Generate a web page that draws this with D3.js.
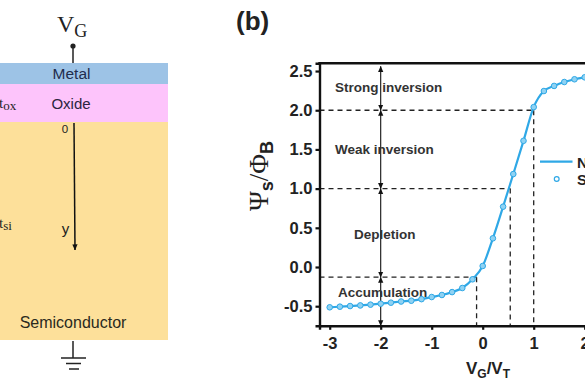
<!DOCTYPE html>
<html>
<head>
<meta charset="utf-8">
<script src="https://cdn.jsdelivr.net/npm/d3@7"></script>
<style>
  html, body { margin: 0; padding: 0; background: #fff; overflow: hidden; }
  svg { display: block; }
  text { font-family: "Liberation Sans", Arial, sans-serif; }
  .serif { font-family: "Liberation Serif", "DejaVu Serif", serif; }
</style>
</head>
<body>
<div id="chart"></div>
<script>
// values
const vgVt = [-3, -2.8, -2.6, -2.4, -2.2, -2, -1.8, -1.6, -1.4, -1.2, -1, -0.8, -0.6, -0.4, -0.2, 0, 0.2, 0.4, 0.6, 0.8, 1, 1.2, 1.4, 1.6, 1.8, 2];
const psiNumerical = [-0.514, -0.506, -0.498, -0.49, -0.48, -0.468, -0.455, -0.44, -0.43, -0.41, -0.383, -0.357, -0.32, -0.268, -0.157, 0.013, 0.366, 0.77, 1.186, 1.61, 2.04, 2.245, 2.31, 2.36, 2.395, 2.42];
const xTicks = [-3, -2, -1, 0, 1, 2];
const yTicks = [-0.5, 0, 0.5, 1, 1.5, 2, 2.5];
const regionNames = ["Strong inversion", "Weak inversion", "Depletion", "Accumulation"];
const boundaryX = [-0.12, 0.54, 1];
const boundaryY = [-0.13, 1, 2];
const arrowStops = [2.56, 2, 1, -0.13, -0.75];
const layerNames = ["Metal", "Oxide", "Semiconductor"];

const width = 585;
const height = 390;
const ink = "#222";
const blue = "#2fa8e6";

const svg = d3.select("#chart")
    .append("svg")
    .attr("width", width)
    .attr("height", height);

const defs = svg.append("defs");
["end", "start"].forEach(name => {
    defs.append("marker")
        .attr("id", "arrow-" + name)
        .attr("viewBox", "0 0 8 8")
        .attr("refX", name === "end" ? 7.5 : 0.5)
        .attr("refY", 4)
        .attr("markerWidth", 6)
        .attr("markerHeight", 7)
        .attr("markerUnits", "userSpaceOnUse")
        .attr("orient", "auto")
        .append("path")
        .attr("d", name === "end" ? "M0,0.5L8,4L0,7.5Z" : "M8,0.5L0,4L8,7.5Z")
        .attr("fill", "#111");
});

// Panel (a): the device stack
const stack = svg.append("g");
stack.append("rect").attr("x", 0).attr("y", 63).attr("width", 168).attr("height", 21).attr("fill", "#9dc3e6");
stack.append("rect").attr("x", 0).attr("y", 84).attr("width", 168).attr("height", 38).attr("fill", "#fdc4fb");
stack.append("rect").attr("x", 0).attr("y", 122).attr("width", 168).attr("height", 218).attr("fill", "#fde09a");

stack.append("text").attr("x", 71.5).attr("y", 79).attr("text-anchor", "middle")
    .style("font-size", "15.5px").attr("fill", "#1f2d4d").text(layerNames[0]);
stack.append("text").attr("x", 71).attr("y", 108.5).attr("text-anchor", "middle")
    .style("font-size", "15px").attr("fill", "#2c2440").text(layerNames[1]);
stack.append("text").attr("x", 73).attr("y", 328).attr("text-anchor", "middle")
    .style("font-size", "16px").attr("fill", "#2a2a20").text(layerNames[2]);

// gate terminal
stack.append("line").attr("x1", 73).attr("x2", 73).attr("y1", 46).attr("y2", 63).attr("stroke", ink).attr("stroke-width", 1.5);
stack.append("circle").attr("cx", 73).attr("cy", 46).attr("r", 2.6).attr("fill", ink);
const vg = stack.append("text").attr("class", "serif").attr("x", 57).attr("y", 32).attr("fill", ink).style("font-size", "24px");
vg.append("tspan").text("V");
vg.append("tspan").attr("dy", 5).style("font-size", "18px").text("G");

// depth axis
stack.append("line").attr("x1", 74).attr("x2", 75).attr("y1", 123).attr("y2", 250)
    .attr("stroke", "#111").attr("stroke-width", 1.5).attr("marker-end", "url(#arrow-end)");
stack.append("text").attr("x", 65).attr("y", 133).attr("text-anchor", "middle").style("font-size", "11.5px").attr("fill", ink).text("0");
stack.append("text").attr("x", 65.5).attr("y", 234).attr("text-anchor", "middle").style("font-size", "15px").attr("fill", ink).text("y");

const tox = stack.append("text").attr("class", "serif").attr("x", -1).attr("y", 108).attr("fill", ink).style("font-size", "15px");
tox.append("tspan").text("t");
tox.append("tspan").attr("dy", 2).style("font-size", "13px").text("ox");
const tsi = stack.append("text").attr("class", "serif").attr("x", -1).attr("y", 228).attr("fill", ink).style("font-size", "15px");
tsi.append("tspan").text("t");
tsi.append("tspan").attr("dy", 2).style("font-size", "13px").text("si");

// ground
stack.append("line").attr("x1", 73).attr("x2", 73).attr("y1", 341).attr("y2", 358).attr("stroke", ink).attr("stroke-width", 1.5);
[[61, 86, 358], [66, 81, 363.5], [69, 79, 369]].forEach(b => {
    stack.append("line").attr("x1", b[0]).attr("x2", b[1]).attr("y1", b[2]).attr("y2", b[2]).attr("stroke", ink).attr("stroke-width", 1.5);
});

// Panel (b)
svg.append("text").attr("x", 236).attr("y", 30)
    .style("font-size", "26px").style("font-weight", "bold").attr("fill", ink).text("(b)");

const x = d3.scaleLinear().domain([-3.2, 3.2]).range([319.5, 645.9]);
const y = d3.scaleLinear().domain([-0.75, 2.6]).range([325.8, 63.2]);

// dashed guides
const guides = svg.append("g")
    .attr("stroke", "#222")
    .attr("stroke-width", 1.3)
    .attr("stroke-dasharray", "5,4")
    .attr("fill", "none");
boundaryY.forEach((v, i) => {
    guides.append("line").attr("x1", x.range()[0]).attr("x2", x(boundaryX[i]))
        .attr("y1", y(v)).attr("y2", y(v));
    guides.append("line").attr("x1", x(boundaryX[i])).attr("x2", x(boundaryX[i]))
        .attr("y1", y(v)).attr("y2", y.range()[0]);
});

// double arrows at x = -2
d3.pairs(arrowStops).forEach(p => {
    svg.append("line")
        .attr("x1", x(-2)).attr("x2", x(-2))
        .attr("y1", y(p[0])).attr("y2", y(p[1]))
        .attr("stroke", "#111").attr("stroke-width", 1.1)
        .attr("marker-start", "url(#arrow-start)")
        .attr("marker-end", "url(#arrow-end)");
});

// region labels
const regionX = [335, 335, 354, 338];
const regionY = [92, 154, 239, 297];
regionNames.forEach((name, i) => {
    svg.append("text").attr("x", regionX[i]).attr("y", regionY[i])
        .style("font-size", "13.5px").style("font-weight", "bold").attr("fill", "#333").text(name);
});

// curve and markers
const line = d3.line()
    .x(i => x(vgVt[i]))
    .y(i => y(psiNumerical[i]))
    .curve(d3.curveMonotoneX);

svg.append("path")
    .attr("d", line(d3.range(vgVt.length)))
    .attr("fill", "none")
    .attr("stroke", blue)
    .attr("stroke-width", 2.2);

svg.selectAll("circle.point")
    .data(vgVt)
    .enter()
    .append("circle")
    .attr("class", "point")
    .attr("cx", d => x(d))
    .attr("cy", (d, i) => y(psiNumerical[i]))
    .attr("r", 2.8)
    .attr("fill", "#8fd2f3")
    .attr("stroke", blue)
    .attr("stroke-width", 1);

// axes
const hyphenMinus = f => d => f(d).replace("\u2212", "-");
const xAxis = svg.append("g")
    .attr("transform", `translate(0,${y.range()[0]})`)
    .call(d3.axisBottom(x).tickValues(xTicks).tickSize(4).tickPadding(7).tickFormat(hyphenMinus(d3.format("d"))));
const yAxis = svg.append("g")
    .attr("transform", `translate(${x.range()[0]},0)`)
    .call(d3.axisLeft(y).tickValues(yTicks).tickSize(4).tickPadding(3).tickFormat(hyphenMinus(d3.format(".1f"))));
[xAxis, yAxis].forEach(a => {
    a.selectAll("path").attr("stroke", "#111").attr("stroke-width", 2.4);
    a.selectAll("line").attr("stroke", "#111").attr("stroke-width", 2.2);
    a.selectAll("text")
        .style("font-family", '"Liberation Sans", Arial, sans-serif')
        .style("font-size", "16.5px")
        .style("font-weight", "bold")
        .attr("fill", ink);
});
svg.append("line")
    .attr("x1", x.range()[0] - 1.2).attr("x2", width)
    .attr("y1", y.range()[1]).attr("y2", y.range()[1])
    .attr("stroke", "#111").attr("stroke-width", 2.4);

// axis titles
const xTitle = svg.append("text").attr("x", 488).attr("y", 374).attr("text-anchor", "middle")
    .style("font-size", "17px").style("font-weight", "bold").attr("fill", ink);
xTitle.append("tspan").text("V");
xTitle.append("tspan").attr("dy", 4).style("font-size", "12px").text("G");
xTitle.append("tspan").attr("dy", -4).text("/V");
xTitle.append("tspan").attr("dy", 4).style("font-size", "12px").text("T");

const yTitle = svg.append("text")
    .attr("transform", "translate(268,176) rotate(-90)")
    .attr("text-anchor", "middle")
    .style("font-size", "27px").style("font-weight", "bold").attr("fill", ink);
yTitle.append("tspan").attr("class", "serif").style("font-weight", "normal").text("Ψ");
yTitle.append("tspan").attr("dy", 5).style("font-size", "18px").text("s");
yTitle.append("tspan").attr("dy", -5).attr("class", "serif").style("font-weight", "normal").text("/Φ");
yTitle.append("tspan").attr("dy", 5).style("font-size", "18px").text("B");

// legend, cut off by the right edge as in the picture
svg.append("line").attr("x1", 540).attr("x2", 572.5).attr("y1", 161.7).attr("y2", 161.7)
    .attr("stroke", blue).attr("stroke-width", 2.2);
svg.append("circle").attr("cx", 556.7).attr("cy", 179).attr("r", 2.4)
    .attr("fill", "none").attr("stroke", blue).attr("stroke-width", 1.2);
svg.append("text").attr("x", 577).attr("y", 167.5)
    .style("font-size", "15px").style("font-weight", "bold").attr("fill", ink).text("N");
svg.append("text").attr("x", 577).attr("y", 185)
    .style("font-size", "15px").style("font-weight", "bold").attr("fill", ink).text("S");
</script>
</body>
</html>
